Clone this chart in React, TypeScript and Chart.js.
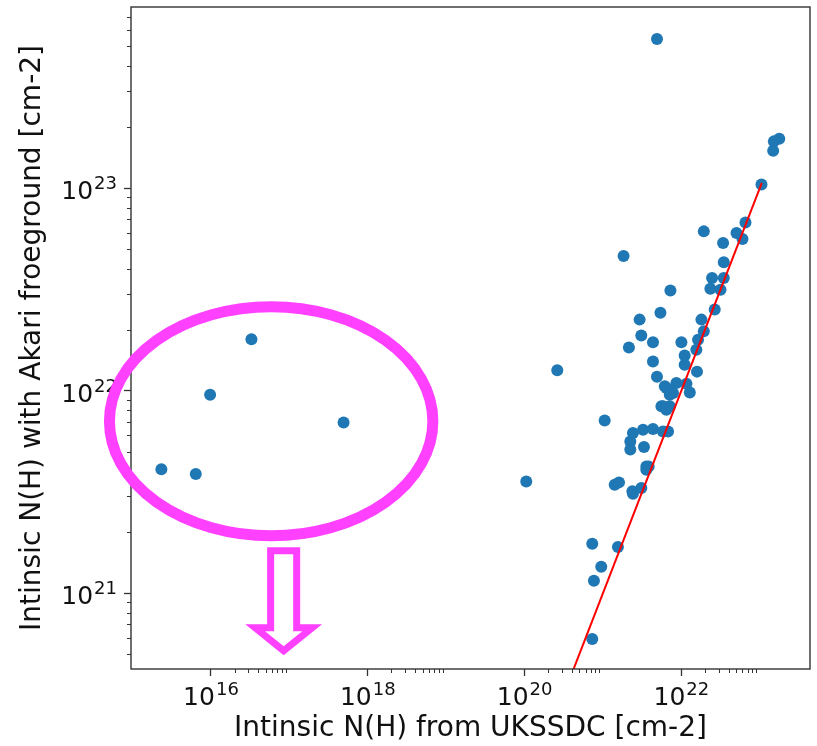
import React, { useEffect, useRef } from 'react';
import { Chart, registerables } from 'chart.js';

Chart.register(...registerables);

// Intrinsic N(H) from UKSSDC [cm-2]
const nhUKSSDC = [
  2.33e15, 6.4e15, 9.75e15, 3.28e16, 4.91e17,
  1.05e20, 2.61e20, 4.88e21, 1.77e23, 1.51e23,
  1.48e23, 1.05e23, 6.56e22, 1.93e22, 5.04e22,
  3.4e22, 6.01e22, 1.83e21, 3.47e22, 2.46e22,
  3.47e22, 2.34e22, 3.15e22, 7.24e21, 2.66e22,
  5.4e21, 2.93e21, 1.8e22, 1.93e22, 3.08e21,
  4.34e21, 1.0e22, 2.14e21, 1.63e22, 1.55e22,
  1.1e22, 4.34e21, 1.1e22, 1.58e22, 4.88e21,
  8.63e21, 6.43e21, 1.16e22, 7.82e21, 1.28e22,
  5.82e21, 7.1e21, 1.05e21, 2.41e21, 3.24e21,
  4.34e21, 5.82e21, 6.75e21, 2.23e21, 2.23e21,
  3.33e21, 3.57e21, 3.82e21, 3.57e21, 1.41e21,
  1.6e21, 2.37e21, 3.08e21, 2.41e21, 7.29e20,
  1.55e21, 9.5e20, 7.66e20, 7.29e20, 6.14e21,
  7.1e21, 5.56e21, 6.43e21,
];

// Intrinsic N(H) with Akari foreground [cm-2]
const nhAkari = [
  4.09e21, 3.87e21, 9.53e21, 1.79e22, 6.95e21,
  3.56e21, 1.26e22, 5.45e23, 1.75e23, 1.7e23,
  1.53e23, 1.04e23, 6.76e22, 6.11e22, 6.0e22,
  5.35e22, 5.6e22, 4.62e22, 4.3e22, 3.6e22,
  3.6e22, 3.18e22, 3.15e22, 3.12e22, 2.51e22,
  2.42e22, 2.24e22, 2.24e22, 1.96e22, 1.87e22,
  1.73e22, 1.73e22, 1.63e22, 1.78e22, 1.59e22,
  1.49e22, 1.39e22, 1.34e22, 1.24e22, 1.17e22,
  1.09e22, 1.03e22, 1.08e22, 9.72e21, 9.79e21,
  8.36e21, 8.36e21, 7.11e21, 6.17e21, 6.4e21,
  6.46e21, 6.28e21, 6.28e21, 5.61e21, 5.11e21,
  5.26e21, 4.22e21, 4.22e21, 4.06e21, 3.43e21,
  3.52e21, 3.18e21, 3.3e21, 3.09e21, 1.75e21,
  1.69e21, 1.35e21, 1.15e21, 5.93e20, 1.05e22,
  9.53e21, 8.36e21, 8.04e21,
];

// one-to-one reference line (x = y)
const oneToOneLine = [1e20, 1.06e23];

const xMajorTicks = [1e16, 1e18, 1e20, 1e22];
const yMajorTicks = [1e21, 1e22, 1e23];
const xLimits = [Math.pow(10, 14.98), Math.pow(10, 23.64)];
const yLimits = [Math.pow(10, 20.625), Math.pow(10, 23.894)];

// annotation (in data units)
const ellipseBox = {
  x0: Math.pow(10, 14.705), x1: Math.pow(10, 18.83),
  y0: Math.pow(10, 21.283), y1: Math.pow(10, 22.414),
};
const arrowX = {
  headL: Math.pow(10, 16.563), shaftL: Math.pow(10, 16.761),
  center: Math.pow(10, 16.927),
  shaftR: Math.pow(10, 17.093), headR: Math.pow(10, 17.291),
};
const arrowY = {
  top: Math.pow(10, 21.209), base: Math.pow(10, 20.829), tip: Math.pow(10, 20.715),
};

const FONT = "'DejaVu Sans', sans-serif";
const MAGENTA = '#ff40ff';
const AXIS = '#333333';
const TEXT = '#111111';
const MAIN_PX = 25;
const SUP_PX = 18;
const SUP_RAISE = 10;

function drawPowLabel(ctx: CanvasRenderingContext2D, value: number, anchorX: number, baseline: number, align: 'center' | 'right') {
  const e = String(Math.round(Math.log10(value)));
  ctx.font = `${MAIN_PX}px ${FONT}`;
  const wMain = ctx.measureText('10').width;
  ctx.font = `${SUP_PX}px ${FONT}`;
  const wSup = ctx.measureText(e).width;
  const total = wMain + wSup + 1;
  const start = align === 'center' ? anchorX - total / 2 : anchorX - total;
  ctx.textAlign = 'left';
  ctx.textBaseline = 'alphabetic';
  ctx.fillStyle = TEXT;
  ctx.font = `${MAIN_PX}px ${FONT}`;
  ctx.fillText('10', start, baseline);
  ctx.font = `${SUP_PX}px ${FONT}`;
  ctx.fillText(e, start + wMain + 1, baseline - SUP_RAISE);
}

const framePlugin = {
  id: 'frameAndMinor',
  afterDraw(chart: any) {
    const { ctx, chartArea, scales } = chart;
    const { left, right, top, bottom } = chartArea;
    const x = scales.x;
    const y = scales.y;
    ctx.save();
    ctx.strokeStyle = AXIS;
    ctx.lineWidth = 1;
    // x minor ticks (matplotlib: subs 2..9 on every 2nd decade)
    for (let d = 12; d <= 24; d += 2) {
      for (let m = 2; m <= 9; m++) {
        const v = m * Math.pow(10, d);
        if (v < x.min || v > x.max) continue;
        const px = Math.round(x.getPixelForValue(v)) + 0.5;
        ctx.beginPath();
        ctx.moveTo(px, bottom);
        ctx.lineTo(px, bottom + 4);
        ctx.stroke();
      }
    }
    for (let d = 20; d <= 24; d++) {
      for (let m = 2; m <= 9; m++) {
        const v = m * Math.pow(10, d);
        if (v < y.min || v > y.max) continue;
        const py = Math.round(y.getPixelForValue(v)) + 0.5;
        ctx.beginPath();
        ctx.moveTo(left, py);
        ctx.lineTo(left - 4, py);
        ctx.stroke();
      }
    }
    // frame
    ctx.lineWidth = 1.4;
    ctx.strokeRect(left, top, right - left, bottom - top);

    // major tick labels (10 with superscript exponent)
    x.ticks.forEach((t: any) => {
      drawPowLabel(ctx, t.value, x.getPixelForValue(t.value), bottom + 36, 'center');
    });
    y.ticks.forEach((t: any) => {
      drawPowLabel(ctx, t.value, left - 14, y.getPixelForValue(t.value) + 11, 'right');
    });

    // annotation ellipse
    const ex0 = x.getPixelForValue(ellipseBox.x0);
    const ex1 = x.getPixelForValue(ellipseBox.x1);
    const ey0 = y.getPixelForValue(ellipseBox.y1);
    const ey1 = y.getPixelForValue(ellipseBox.y0);
    ctx.strokeStyle = MAGENTA;
    ctx.lineWidth = 11;
    ctx.beginPath();
    ctx.ellipse((ex0 + ex1) / 2, (ey0 + ey1) / 2, (ex1 - ex0) / 2, (ey1 - ey0) / 2, 0, 0, Math.PI * 2);
    ctx.stroke();

    // annotation arrow
    const X = (v: number) => x.getPixelForValue(v);
    const Y = (v: number) => y.getPixelForValue(v);
    ctx.beginPath();
    ctx.moveTo(X(arrowX.shaftL), Y(arrowY.top));
    ctx.lineTo(X(arrowX.shaftR), Y(arrowY.top));
    ctx.lineTo(X(arrowX.shaftR), Y(arrowY.base));
    ctx.lineTo(X(arrowX.headR), Y(arrowY.base));
    ctx.lineTo(X(arrowX.center), Y(arrowY.tip));
    ctx.lineTo(X(arrowX.headL), Y(arrowY.base));
    ctx.lineTo(X(arrowX.shaftL), Y(arrowY.base));
    ctx.closePath();
    ctx.fillStyle = '#ffffff';
    ctx.fill();
    ctx.lineWidth = 7;
    ctx.lineJoin = 'miter';
    ctx.miterLimit = 10;
    ctx.stroke();
    ctx.restore();
  },
};

export default function App() {
  const canvasRef = useRef<HTMLCanvasElement | null>(null);

  useEffect(() => {
    if (!canvasRef.current) return;
    const points = nhUKSSDC.map((v, i) => ({ x: v, y: nhAkari[i] }));
    const line = oneToOneLine.map((v) => ({ x: v, y: v }));

    const chart = new Chart(canvasRef.current, {
      type: 'scatter',
      data: {
        datasets: [
          {
            type: 'line',
            label: 'x = y',
            data: line,
            borderColor: '#ff0000',
            borderWidth: 2,
            pointRadius: 0,
            fill: false,
            showLine: true,
            order: 0,
            clip: 0,
          } as any,
          {
            label: 'sources',
            data: points,
            backgroundColor: '#1f77b4',
            borderWidth: 0,
            pointRadius: 6,
            pointHoverRadius: 6,
            order: 1,
          },
        ],
      },
      options: {
        responsive: false,
        animation: false,
        layout: { padding: { left: 0, right: 7, top: 7, bottom: 0 } },
        plugins: {
          legend: { display: false },
          tooltip: { enabled: false },
        },
        scales: {
          x: {
            type: 'logarithmic',
            min: xLimits[0],
            max: xLimits[1],
            afterBuildTicks: (s: any) => {
              s.ticks = xMajorTicks.map((v) => ({ value: v }));
            },
            afterFit: (s: any) => {
              s.height = 77;
              s.paddingLeft = 0;
              s.paddingRight = 0;
            },
            ticks: { display: false, autoSkip: false, maxRotation: 0 },
            grid: {
              display: true,
              drawOnChartArea: false,
              drawTicks: true,
              tickLength: 7,
              tickColor: AXIS,
              tickWidth: 1.3,
            },
            border: { display: false },
            title: {
              display: true,
              text: 'Intinsic N(H) from UKSSDC [cm-2]',
              font: { family: FONT, size: 28 },
              color: TEXT,
              padding: { top: 0, bottom: 0 },
            },
          },
          y: {
            type: 'logarithmic',
            min: yLimits[0],
            max: yLimits[1],
            afterBuildTicks: (s: any) => {
              s.ticks = yMajorTicks.map((v) => ({ value: v }));
            },
            afterFit: (s: any) => {
              s.width = 131;
              s.paddingTop = 0;
              s.paddingBottom = 0;
            },
            ticks: { display: false, autoSkip: false },
            grid: {
              display: true,
              drawOnChartArea: false,
              drawTicks: true,
              tickLength: 7,
              tickColor: AXIS,
              tickWidth: 1.3,
            },
            border: { display: false },
            title: {
              display: true,
              text: 'Intinsic N(H) with Akari froeground [cm-2]',
              font: { family: FONT, size: 28 },
              color: TEXT,
              padding: { top: 16, bottom: 0 },
            },
          },
        },
      },
      plugins: [framePlugin],
    });
    return () => chart.destroy();
  }, []);

  return (
    <div style={{ position: 'fixed', left: 0, top: 0, width: 817, height: 746, background: '#fff' }}>
      <canvas ref={canvasRef} width={817} height={746} />
    </div>
  );
}
